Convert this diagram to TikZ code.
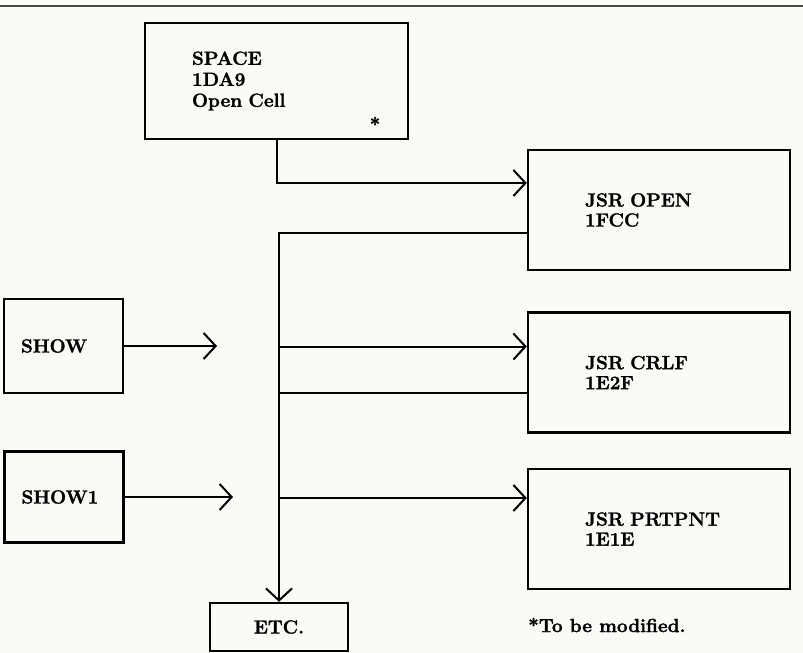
\documentclass[tikz,border=0pt]{standalone}
\usepackage{fontspec}
\setmainfont{Latin Modern Roman}[BoldFeatures={FakeBold=1.5}]
\usepackage{tikz}
\usetikzlibrary{arrows.meta, positioning, calc}
\definecolor{paperBg}{HTML}{FBFAF6}
\definecolor{ruleGray}{HTML}{4A4A4A}

\begin{document}
\begin{tikzpicture}[
  x=1pt, y=-1pt,
  bx/.style={draw, line width=2.4pt, inner ysep=0pt, align=left, font=\fontsize{19}{20}\selectfont\bfseries},
  jsr/.style={bx, minimum height=120pt, inner xsep=57pt, text width=148pt},
  src/.style={bx, minimum height=94pt, inner xsep=17pt, text width=85pt},
  ln/.style={line width=2pt},
  arr/.style={ln, -{Straight Barb[length=12pt, width=26pt]}}
]
  \fill[paperBg] (0,0) rectangle (803,653);
  \useasboundingbox (0,0) rectangle (803,653);
  \draw[line width=1.5pt, ruleGray] (0,6) -- (803,6);

  \node[bx, minimum width=263pt, minimum height=116pt, inner xsep=47pt, text width=169pt,
        font=\fontsize{19}{21}\selectfont\bfseries] (space) at (276.5,81) {SPACE\\1DA9\\Open Cell\\[3pt]};
  \node[font=\fontsize{19}{21}\selectfont\bfseries] (star) at (375,124) {*};

  \node[jsr] (open) at (659,210) {JSR OPEN\\1FCC};
  \node[jsr] (crlf) at (659,372.5) {JSR CRLF\\1E2F};
  \node[jsr] (prtpnt) at (659,529) {JSR PRTPNT\\1E1E};

  \node[src] (show) at (63.5,346) {SHOW};
  \node[src, minimum height=91pt] (showone) at (64,497) {SHOW1};
  \node[bx, align=center, minimum width=138pt, minimum height=48pt] (etc) at (279,627) {ETC.};

  \node[anchor=west, inner sep=0pt, font=\fontsize{19}{21}\selectfont\bfseries] (note) at (528,625) {*To be modified.};

  \coordinate (showtip) at (217,346);
  \coordinate (showonetip) at (233,497);
  \coordinate (openin) at ([yshift=27pt]open.west);
  \coordinate (openout) at ([yshift=-23pt]open.west);
  \coordinate (crlfin) at ([yshift=26pt]crlf.west);
  \coordinate (crlfout) at ([yshift=-20pt]crlf.west);
  \coordinate (prtin) at ([yshift=31pt]prtpnt.west);

  \draw[arr] (space.south) |- (openin);
  \draw[arr] (openout) -| (etc.north);
  \foreach \c in {crlfin, prtin}
    \draw[arr] (\c -| etc.north) -- (\c);
  \draw[ln] (crlfout) -- (crlfout -| etc.north);
  \foreach \a/\b in {show/showtip, showone/showonetip}
    \draw[arr] (\a) -- (\b);
\end{tikzpicture}
\end{document}
